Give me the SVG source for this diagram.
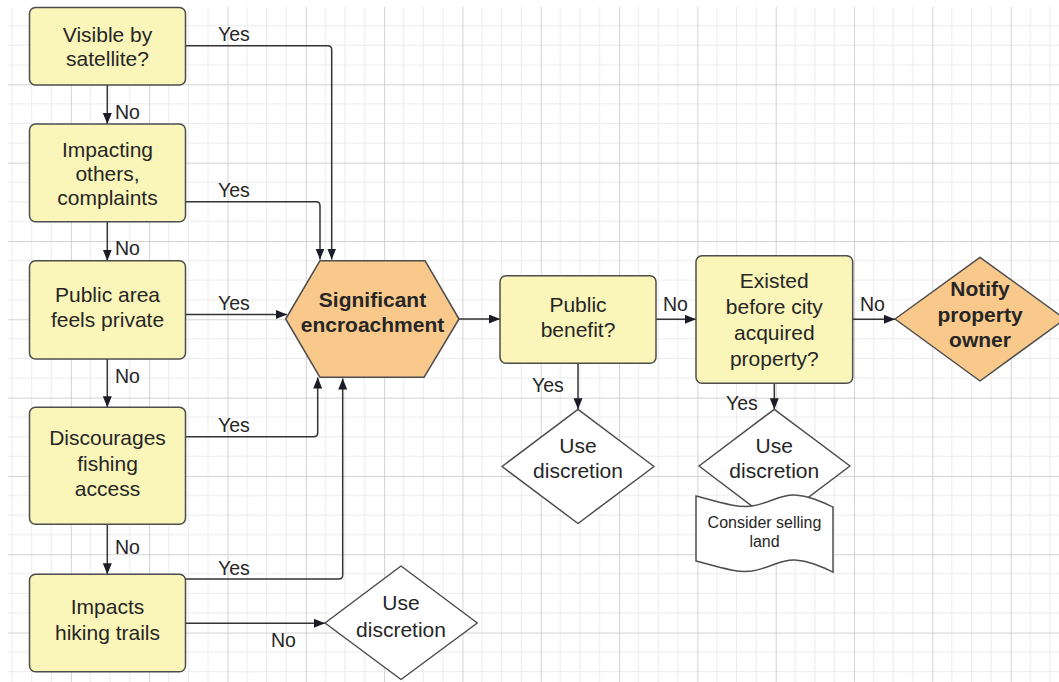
<svg xmlns="http://www.w3.org/2000/svg" width="1059" height="682" viewBox="0 0 1059 682">
<defs>
<pattern id="grid" patternUnits="userSpaceOnUse" x="-7.48" y="6" width="78.32" height="78.32">
<path d="M19.58,0V78.32M39.16,0V78.32M58.74,0V78.32M0,19.58H78.32M0,39.16H78.32M0,58.74H78.32" stroke="#ebebeb" stroke-width="1" fill="none"/>
<path d="M0.5,0V78.32M0,0.5H78.32" stroke="#d2d2d2" stroke-width="1" fill="none"/>
</pattern>
<marker id="arr" markerUnits="userSpaceOnUse" markerWidth="12" markerHeight="10" refX="11" refY="4.5" orient="auto">
<path d="M0,0 L11,4.5 L0,9 Z" fill="#1c1c28"/>
</marker>
<style>
.box{fill:#faf5b8;stroke:#4d4d4d;stroke-width:1.5}
.hot{fill:#f9c98b;stroke:#4d4d4d;stroke-width:1.5}
.dia{fill:#ffffff;stroke:#4d4d4d;stroke-width:1.5}
.t{font-family:"Liberation Sans",Arial,sans-serif;font-size:21px;fill:#262626;text-anchor:middle}
.b{font-weight:bold}
.s{font-size:16px}
.lbl{font-family:"Liberation Sans",Arial,sans-serif;font-size:19.5px;fill:#262626}
.c{fill:none;stroke:#333333;stroke-width:1.5}
</style>
</defs>
<rect width="1059" height="682" fill="#ffffff"/>
<rect x="8" y="7" width="1051" height="675" fill="url(#grid)"/>

<g id="connectors">
<path class="c" d="M186,45.7 H327.7 Q331.7,45.7 331.7,49.7 V259.5" marker-end="url(#arr)"/>
<path class="c" d="M186,201.7 H316 Q320,201.7 320,205.7 V259.5" marker-end="url(#arr)"/>
<path class="c" d="M186,314.5 H287" marker-end="url(#arr)"/>
<path class="c" d="M186,436.7 H313.7 Q317.7,436.7 317.7,432.7 V377.5" marker-end="url(#arr)"/>
<path class="c" d="M186,579 H338.7 Q342.7,579 342.7,575 V378.5" marker-end="url(#arr)"/>
<path class="c" d="M186,623.3 H325" marker-end="url(#arr)"/>
<path class="c" d="M107.3,85 V124" marker-end="url(#arr)"/>
<path class="c" d="M107.3,221.7 V260.7" marker-end="url(#arr)"/>
<path class="c" d="M107.3,359 V407.3" marker-end="url(#arr)"/>
<path class="c" d="M107.3,524.3 V574.3" marker-end="url(#arr)"/>
<path class="c" d="M459,319 H500" marker-end="url(#arr)"/>
<path class="c" d="M578,363.3 V409.3" marker-end="url(#arr)"/>
<path class="c" d="M656,319.3 H696" marker-end="url(#arr)"/>
<path class="c" d="M852.7,319.3 H895" marker-end="url(#arr)"/>
<path class="c" d="M774.3,383.3 V409.3" marker-end="url(#arr)"/>
<text class="lbl" x="218" y="40.7">Yes</text>
<text class="lbl" x="218" y="196.7">Yes</text>
<text class="lbl" x="218" y="310">Yes</text>
<text class="lbl" x="218" y="432">Yes</text>
<text class="lbl" x="218" y="575">Yes</text>
<text class="lbl" x="271" y="647">No</text>
<text class="lbl" x="115" y="119">No</text>
<text class="lbl" x="115" y="255">No</text>
<text class="lbl" x="115" y="383">No</text>
<text class="lbl" x="115" y="554">No</text>
<text class="lbl" x="532" y="392">Yes</text>
<text class="lbl" x="663" y="311">No</text>
<text class="lbl" x="860" y="311">No</text>
<text class="lbl" x="726" y="410">Yes</text>
</g>

<g id="n1"><rect class="box" x="29.5" y="7.5" width="156" height="77.5" rx="6"/>
<text class="t" x="107.5" y="41.5">Visible by</text><text class="t" x="107.5" y="65.5">satellite?</text></g>
<g id="n2"><rect class="box" x="29.5" y="124" width="156" height="97.7" rx="6"/>
<text class="t" x="107.5" y="156.5">Impacting</text><text class="t" x="107.5" y="180.5">others,</text><text class="t" x="107.5" y="204.5">complaints</text></g>
<g id="n3"><rect class="box" x="29.5" y="260.7" width="156" height="98.3" rx="6"/>
<text class="t" x="107.5" y="302">Public area</text><text class="t" x="107.5" y="326.5">feels private</text></g>
<g id="n4"><rect class="box" x="29.5" y="407.3" width="156" height="117" rx="6"/>
<text class="t" x="107.5" y="445">Discourages</text><text class="t" x="107.5" y="470.5">fishing</text><text class="t" x="107.5" y="496">access</text></g>
<g id="n5"><rect class="box" x="29.5" y="574.3" width="156" height="97.4" rx="6"/>
<text class="t" x="107.5" y="613.5">Impacts</text><text class="t" x="107.5" y="640">hiking trails</text></g>

<g id="hex"><path class="hot" d="M285.7,319 L320,260.7 H425 L459,319 L424,377.3 H320 Z" stroke-linejoin="round"/>
<text class="t b" x="372.5" y="306.7">Significant</text><text class="t b" x="372.5" y="331.7">encroachment</text></g>

<g id="pb"><rect class="box" x="500" y="275.7" width="156" height="87.6" rx="6"/>
<text class="t" x="578" y="311.7">Public</text><text class="t" x="578" y="336.7">benefit?</text></g>

<g id="ud1"><path class="dia" d="M578,409.3 L654,466.5 L578,523.5 L502,466.5 Z" stroke-linejoin="round"/>
<text class="t" x="578" y="453.3">Use</text><text class="t" x="578" y="478.3">discretion</text></g>

<g id="ex"><rect class="box" x="696" y="255.7" width="156.7" height="127.6" rx="6"/>
<text class="t" x="774.3" y="288.3">Existed</text><text class="t" x="774.3" y="314">before city</text><text class="t" x="774.3" y="340">acquired</text><text class="t" x="774.3" y="365.5">property?</text></g>

<g id="notify"><path class="hot" d="M980,257.3 L1065,319 L980,381 L895,319 Z" stroke-linejoin="round"/>
<text class="t b" x="980" y="295.5">Notify</text><text class="t b" x="980" y="321.7">property</text><text class="t b" x="980" y="347.3">owner</text></g>

<g id="ud2"><path class="dia" d="M774.3,409.3 L850,466 L774.3,523 L699,466 Z" stroke-linejoin="round"/>
<text class="t" x="774.3" y="453.3">Use</text><text class="t" x="774.3" y="478.3">discretion</text></g>

<g id="doc"><path class="dia" d="M696,496 C722,503 738,508 752,506 C770,503 781,494 795,495 C810,496 822,502 833,507 V572 C822,567 810,561 795,560 C781,559 770,568 752,571 C738,573 722,568 696,561 Z"/>
<text class="t s" x="764.5" y="527.5">Consider selling</text><text class="t s" x="764.5" y="547">land</text></g>

<g id="ud3"><path class="dia" d="M401,566 L477.3,623 L401,679.5 L325,623 Z" stroke-linejoin="round"/>
<text class="t" x="401" y="610">Use</text><text class="t" x="401" y="636.7">discretion</text></g>
</svg>
